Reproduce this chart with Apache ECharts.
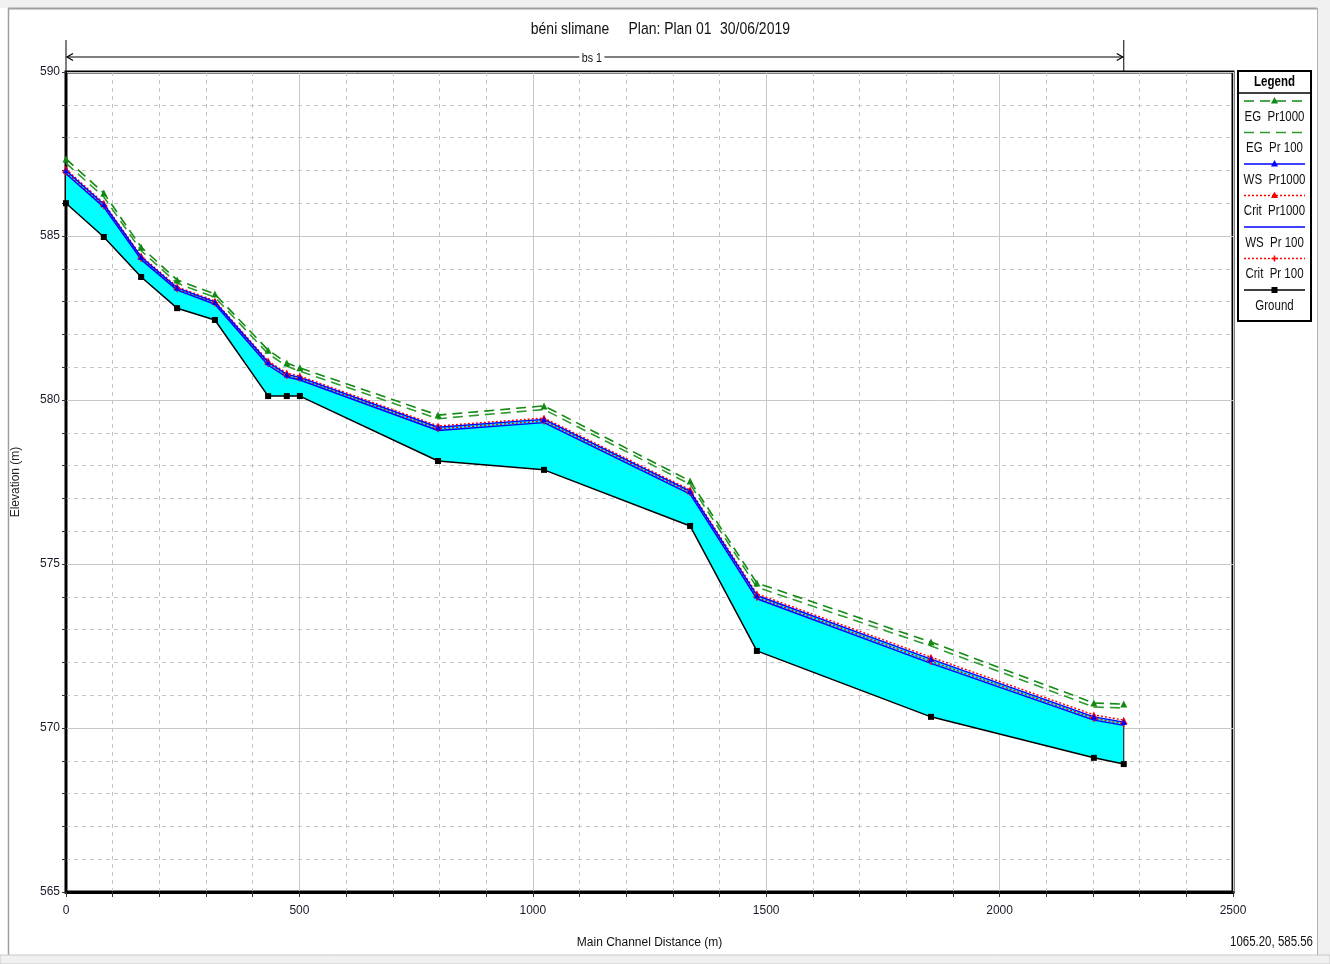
<!DOCTYPE html>
<html>
<head>
<meta charset="utf-8">
<script src="https://cdn.jsdelivr.net/npm/echarts@6/dist/echarts.min.js"></script>
<style>
  html, body { margin: 0; padding: 0; background: #fff; }
  #chart { width: 1330px; height: 964px; }
</style>
</head>
<body>
<div id="chart"></div>
<script>
// river stations (m) and profile elevations (m)
const stations   = [0, 81, 161, 238, 319, 433, 473, 501, 797, 1024, 1337, 1480, 1853, 2202, 2266];
const ground     = [586.0, 584.97, 583.75, 582.8, 582.44, 580.12, 580.12, 580.12, 578.14, 577.87, 576.16, 572.35, 570.34, 569.09, 568.9];
const egPr1000   = [587.35, 586.31, 584.66, 583.66, 583.23, 581.52, 581.13, 580.98, 579.54, 579.82, 577.53, 574.42, 572.62, 570.76, 570.73];
const egPr100    = [587.22, 586.19, 584.55, 583.56, 583.13, 581.41, 581.03, 580.88, 579.43, 579.71, 577.43, 574.29, 572.50, 570.64, 570.61];
const wsPr1000   = [587.00, 585.97, 584.36, 583.42, 582.99, 581.15, 580.78, 580.69, 579.17, 579.41, 577.22, 574.04, 572.10, 570.34, 570.18];
const critPr1000 = [587.04, 586.00, 584.39, 583.45, 583.02, 581.19, 580.82, 580.73, 579.21, 579.45, 577.26, 574.09, 572.16, 570.40, 570.24];
const wsPr100    = [586.90, 585.88, 584.28, 583.35, 582.92, 581.06, 580.70, 580.61, 579.07, 579.31, 577.13, 573.94, 571.97, 570.24, 570.08];
const critPr100  = [586.95, 585.92, 584.32, 583.39, 582.96, 581.11, 580.75, 580.66, 579.12, 579.36, 577.18, 573.99, 572.03, 570.29, 570.13];

const xTicks = { min: 0, max: 2500, step: 500 };
const yTicks = { min: 565, max: 590, step: 5 };

const FONT = '"Liberation Sans", Arial, sans-serif';
const PLUS = 'path://M4,0H6V4H10V6H6V10H4V6H0V4H4Z';

const pts = (vals) => stations.map((s, i) => [s, vals[i]]);

// legend order as in HEC-RAS
const profiles = [
  { name: 'EG  Pr1000',   data: egPr1000,   color: '#128a12', dash: [10, 6], width: 1.6, symbol: 'triangle', size: 7 },
  { name: 'EG  Pr 100',   data: egPr100,    color: '#2e9a2e', dash: [10, 6], width: 1.6, symbol: 'none' },
  { name: 'WS  Pr1000',   data: wsPr1000,   color: '#0000ff', dash: 'solid', width: 1.4, symbol: 'triangle', size: 6 },
  { name: 'Crit  Pr1000', data: critPr1000, color: '#ff0000', dash: [2, 2],  width: 1.4, symbol: 'triangle', size: 7 },
  { name: 'WS  Pr 100',   data: wsPr100,    color: '#0000ff', dash: 'solid', width: 1.4, symbol: 'none' },
  { name: 'Crit  Pr 100', data: critPr100,  color: '#ff0000', dash: [2, 2],  width: 1.4, symbol: PLUS, size: 7 },
  { name: 'Ground',       data: ground,     color: '#000000', dash: 'solid', width: 1.5, symbol: 'rect', size: 6 },
];

const chart = echarts.init(document.getElementById('chart'));

const lineSeries = profiles.slice().reverse().map((p) => ({
  name: p.name,
  type: 'line',
  data: pts(p.data),
  symbol: p.symbol,
  symbolSize: p.size || 0,
  showSymbol: p.symbol !== 'none',
  itemStyle: { color: p.color },
  lineStyle: { color: p.color, width: p.width, type: p.dash },
  z: 3,
}));

const last = stations.length - 1;

// water body between ground and WS Pr1000, drawn through the axis scales
function renderWater(params, api) {
  const top = stations.map((s, i) => api.coord([s, wsPr1000[i]]));
  const bottom = stations.map((s, i) => api.coord([s, ground[i]])).reverse();
  return {
    type: 'polygon',
    shape: { points: top.concat(bottom) },
    style: { fill: '#00ffff', stroke: null },
    silent: true,
  };
}

const noComma = (v) => String(v);

chart.setOption({
  backgroundColor: '#fff',
  animation: false,
  grid: {
    left: 66, top: 72, width: 1167, height: 820,
    show: true, borderColor: '#000', borderWidth: 3, backgroundColor: '#fff',
  },
  xAxis: {
    type: 'value',
    min: xTicks.min, max: xTicks.max, interval: xTicks.step,
    name: 'Main Channel Distance (m)',
    nameLocation: 'middle', nameGap: 45,
    nameTextStyle: { fontFamily: FONT, fontSize: 12, color: '#111' },
    axisLine: { lineStyle: { color: '#000', width: 3 } },
    axisTick: { length: 5, lineStyle: { color: '#333' } },
    minorTick: { show: true, splitNumber: 5, length: 5, lineStyle: { color: '#333' } },
    axisLabel: { fontFamily: FONT, fontSize: 12, color: '#1a1a2a', margin: 13, formatter: noComma },
    splitLine: { lineStyle: { color: '#c8c8c8', width: 1 } },
    minorSplitLine: { show: true, lineStyle: { color: '#c4c4c4', type: [4, 4] } },
  },
  yAxis: {
    type: 'value',
    min: yTicks.min, max: yTicks.max, interval: yTicks.step,
    name: 'Elevation (m)',
    nameLocation: 'middle', nameGap: 44, nameRotate: 90,
    nameTextStyle: { fontFamily: FONT, fontSize: 12, color: '#222' },
    axisLine: { lineStyle: { color: '#000', width: 2 } },
    axisTick: { length: 4, lineStyle: { color: '#333' } },
    minorTick: { show: true, splitNumber: 5, length: 4, lineStyle: { color: '#333' } },
    axisLabel: { fontFamily: FONT, fontSize: 12, color: '#1a1a2a', margin: 6, formatter: noComma },
    splitLine: { lineStyle: { color: '#c8c8c8', width: 1 } },
    minorSplitLine: { show: true, lineStyle: { color: '#c4c4c4', type: [4, 4] } },
  },
  series: [
    {
      name: 'water', type: 'custom', renderItem: renderWater,
      data: [[stations[0], ground[0]]], clip: true, z: 1, silent: true,
    },
    {
      name: 'end', type: 'line', symbol: 'none', silent: true, z: 2,
      data: [[stations[last], ground[last]], [stations[last], wsPr1000[last]]],
      lineStyle: { color: '#000', width: 1 },
    },
    ...lineSeries,
  ],
});

// decorations: title, reach marker, legend box, window frame
const x0 = chart.convertToPixel({ xAxisIndex: 0 }, stations[0]);
const x1 = chart.convertToPixel({ xAxisIndex: 0 }, stations[last]);
const reachY = 57;
const NARROWX = 0.82;

function narrowText(x, y, text, size, align, extra) {
  return {
    type: 'text', x: x, y: y, scaleX: NARROWX,
    style: Object.assign({ text: text, font: size + 'px ' + FONT, fill: '#111',
      align: align || 'center', verticalAlign: 'middle' }, extra || {}),
  };
}

const legendX = 1238, legendW = 73, legendTop = 71;
const legendEls = [
  { type: 'rect', shape: { x: legendX, y: legendTop, width: legendW, height: 250 },
    style: { fill: '#fff', stroke: '#000', lineWidth: 2 } },
  { type: 'line', shape: { x1: legendX, y1: 93, x2: legendX + legendW, y2: 93 },
    style: { stroke: '#000', lineWidth: 1.5 } },
  narrowText(legendX + legendW / 2, 82, 'Legend', 14, 'center', { font: 'bold 14px ' + FONT, fill: '#000' }),
];
profiles.forEach((p, i) => {
  const ly = 101 + i * 31.5;
  const cx = legendX + legendW / 2;
  legendEls.push({
    type: 'line', shape: { x1: legendX + 6, y1: ly, x2: legendX + legendW - 6, y2: ly },
    style: { stroke: p.color, lineWidth: p.width, lineDash: p.dash === 'solid' ? null : p.dash },
  });
  if (p.symbol === 'triangle') {
    legendEls.push({ type: 'polygon', shape: { points: [[cx, ly - 4], [cx - 3.5, ly + 2.5], [cx + 3.5, ly + 2.5]] },
      style: { fill: p.color } });
  } else if (p.symbol === 'rect') {
    legendEls.push({ type: 'rect', shape: { x: cx - 3, y: ly - 3, width: 6, height: 6 }, style: { fill: p.color } });
  } else if (p.symbol === PLUS) {
    legendEls.push({ type: 'line', shape: { x1: cx - 3, y1: ly, x2: cx + 3, y2: ly }, style: { stroke: p.color, lineWidth: 1.5 } });
    legendEls.push({ type: 'line', shape: { x1: cx, y1: ly - 3, x2: cx, y2: ly + 3 }, style: { stroke: p.color, lineWidth: 1.5 } });
  }
  legendEls.push(narrowText(cx, ly + 16, p.name, 14));
});

chart.setOption({
  graphic: [
    // window chrome
    { type: 'rect', shape: { x: 0, y: 0, width: 1330, height: 8 }, style: { fill: '#f0f0f0' }, silent: true },
    { type: 'line', shape: { x1: 8, y1: 8.5, x2: 1317, y2: 8.5 }, style: { stroke: '#a0a0a0', lineWidth: 2 } },
    { type: 'line', shape: { x1: 8.5, y1: 8, x2: 8.5, y2: 955 }, style: { stroke: '#a0a0a0', lineWidth: 1.5 } },
    { type: 'rect', shape: { x: 1318, y: 0, width: 12, height: 964 }, style: { fill: '#f0f0f0' }, silent: true },
    { type: 'line', shape: { x1: 1317.5, y1: 8, x2: 1317.5, y2: 955 }, style: { stroke: '#b0b0b0', lineWidth: 1 } },
    { type: 'rect', shape: { x: 0, y: 955, width: 1330, height: 9 }, style: { fill: '#f0f0f0', stroke: '#c8c8c8' }, silent: true },

    // title
    narrowText(570, 29, 'béni slimane', 17),
    narrowText(670, 29, 'Plan: Plan 01', 17),
    narrowText(755, 29, '30/06/2019', 17),

    // reach "bs 1"
    { type: 'line', shape: { x1: x0, y1: 40, x2: x0, y2: 72 }, style: { stroke: '#000', lineWidth: 1 } },
    { type: 'line', shape: { x1: x1, y1: 40, x2: x1, y2: 72 }, style: { stroke: '#000', lineWidth: 1 } },
    { type: 'line', shape: { x1: x0 + 1, y1: reachY, x2: x1 - 1, y2: reachY }, style: { stroke: '#000', lineWidth: 1.2 } },
    { type: 'polyline', shape: { points: [[x0 + 7, reachY - 3.5], [x0 + 1, reachY], [x0 + 7, reachY + 3.5]] },
      style: { stroke: '#000', lineWidth: 1.2, fill: null } },
    { type: 'polyline', shape: { points: [[x1 - 7, reachY - 3.5], [x1 - 1, reachY], [x1 - 7, reachY + 3.5]] },
      style: { stroke: '#000', lineWidth: 1.2, fill: null } },
    narrowText((x0 + x1) / 2 - 3, reachY + 1, 'bs 1', 13, 'center', { backgroundColor: '#fff', padding: [0, 3] }),

    // cursor readout
    narrowText(1313, 942, '1065.20, 585.56', 14, 'right'),

    ...legendEls,
  ],
});
</script>
</body>
</html>
